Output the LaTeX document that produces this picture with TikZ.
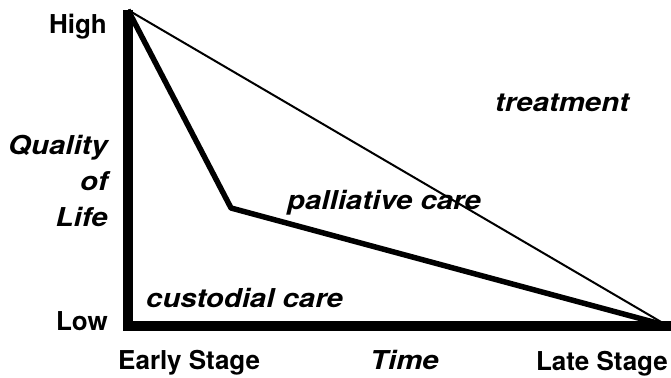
\documentclass[tikz,border=0pt]{standalone}
\usepackage{fontspec}
\setmainfont{TeX Gyre Heros}
\newfontfamily\wideheros[FakeStretch=1.13]{TeX Gyre Heros}
\usetikzlibrary{positioning}

\begin{document}
\begin{tikzpicture}[x=1pt,y=-1pt,
	axis text/.style={inner sep=0pt,font=\bfseries\fontsize{26}{36}\selectfont},
	care text/.style={inner sep=0pt,font=\wideheros\bfseries\itshape\fontsize{26}{36}\selectfont},
	axis line/.style={line width=10pt},
	care line/.style={line width=5.5pt,line join=round}]
	
	\useasboundingbox (0,0) rectangle (671,377);
	
	\coordinate (high) at (128,10);
	\coordinate (low) at (128,326);
	\coordinate (late) at (668,326);
	\coordinate (bend) at (231,208);
	
	% axes
	\draw[axis line] (high) -- (low) -- (671,326);
	% treatment and palliative care
	\draw[line width=2pt] (high) -- (late);
	\draw[care line] (high) -- (bend) -- (late);
	
	\node[axis text,anchor=base east] (highlbl) at (107,34) {High};
	\node[axis text,anchor=base east] (lowlbl) at (108,330) {Low};
	\node[care text,anchor=north east,align=right] (quality) at (108,135) {Quality\\of\\Life};
	\node[axis text,anchor=base west] (early) at (118,369) {Early Stage};
	\node[care text,anchor=base west] (time) at (370,369) {Time};
	\node[axis text,anchor=base east] (latelbl) at (668,370) {Late Stage};
	
	\node[care text,anchor=base west] (custodial) at (146,307) {custodial care};
	\node[care text,anchor=base west] (palliative) at (287,209) {palliative care};
	\node[care text,anchor=base west] (treatment) at (495,112) {treatment};
	
\end{tikzpicture}
\end{document}
